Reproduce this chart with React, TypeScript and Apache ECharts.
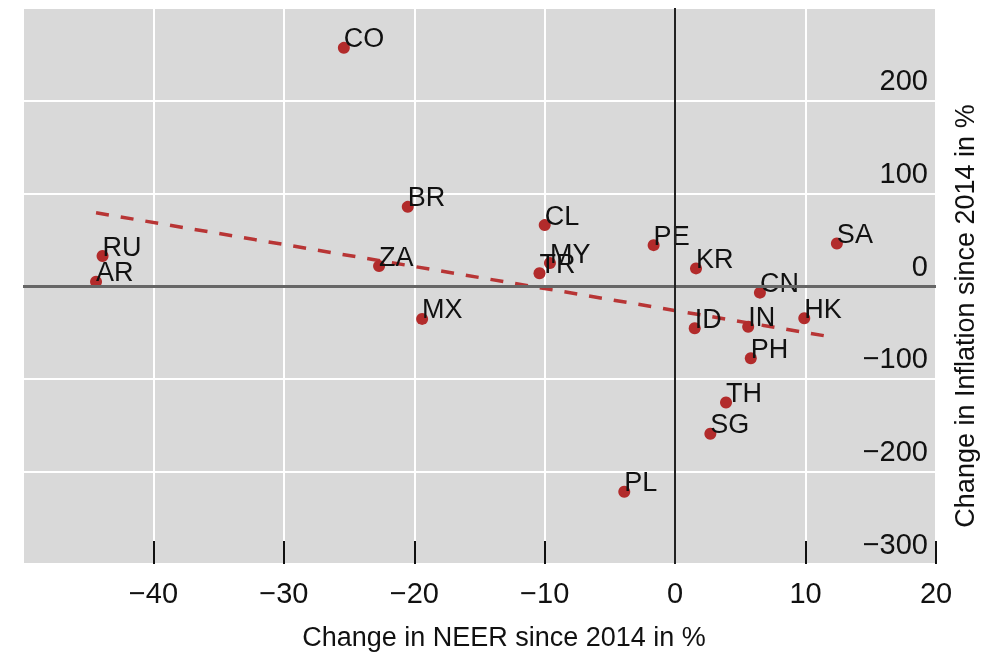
import React, { useEffect, useRef } from "react";
import * as echarts from "echarts";

const countries = ["CO", "BR", "CL", "PE", "KR", "SA", "RU", "AR", "ZA", "TR", "MY", "MX", "CN", "HK", "ID", "IN", "PH", "TH", "SG", "PL"];
const neerChange = [-25.4, -20.5, -10.0, -1.65, 1.6, 12.4, -43.9, -44.4, -22.7, -10.4, -9.6, -19.4, 6.5, 9.9, 1.5, 5.6, 5.8, 3.9, 2.7, -3.9];
const inflationChange = [257, 85.4, 65.7, 44.1, 19.0, 45.8, 32.3, 4.6, 21.5, 13.7, 24.8, -35.5, -7.2, -34.8, -45.6, -43.9, -77.9, -125.7, -159.4, -222.1];
const trendX = [-44.4, 12.3];
const trendY = [79, -55.7];

const xMin = -50, xMax = 20, xStep = 10;
const yMin = -300, yMax = 300, yStep = 100;

const xName = "Change in NEER since 2014 in %";
const yName = "Change in Inflation since 2014 in %";

const FONT = "'Liberation Sans', Arial, Helvetica, sans-serif";
const RED = "#b22b2b";
const fmt = (v: number) => (v < 0 ? "\u2212" + Math.abs(v) : String(v));

export default function App() {
  const ref = useRef<HTMLDivElement>(null);
  useEffect(() => {
    if (!ref.current) return;
    const chart = echarts.init(ref.current, undefined, { renderer: "svg" });
    const points = countries.map((c, i) => ({ name: c, value: [neerChange[i], inflationChange[i]] }));
    chart.setOption({
      animation: false,
      textStyle: { fontFamily: FONT },
      grid: {
        left: 23,
        top: 8,
        width: 913,
        height: 556,
        show: true,
        backgroundColor: "#d9d9d9",
        borderWidth: 0,
      },
      xAxis: {
        type: "value",
        min: xMin,
        max: xMax,
        interval: xStep,
        axisLine: { show: false, onZero: false },
        axisTick: { show: true, inside: true, length: 23, lineStyle: { color: "#111", width: 2 } },
        splitLine: { show: true, lineStyle: { color: "#ffffff", width: 2 } },
        axisLabel: {
          showMinLabel: false,
          fontSize: 29,
          color: "#111",
          margin: 14,
          fontFamily: FONT,
          formatter: fmt,
        },
      },
      yAxis: {
        type: "value",
        position: "right",
        min: yMin,
        max: yMax,
        interval: yStep,
        axisLine: { show: false, onZero: false },
        axisTick: { show: false },
        splitLine: { show: true, lineStyle: { color: "#ffffff", width: 2 } },
        axisLabel: {
          inside: true,
          showMaxLabel: false,
          fontSize: 29,
          lineHeight: 29,
          color: "#111",
          margin: 8,
          fontFamily: FONT,
          verticalAlign: "bottom",
          padding: [0, 0, 6, 0],
          formatter: fmt,
        },
      },
      graphic: [
        {
          type: "text",
          x: 504,
          y: 637,
          style: { text: xName, fontSize: 27, fontFamily: FONT, fill: "#111", align: "center", verticalAlign: "middle" },
        },
        {
          type: "text",
          x: 965,
          y: 316,
          rotation: Math.PI / 2,
          style: { text: yName, fontSize: 27, fontFamily: FONT, fill: "#111", align: "center", verticalAlign: "middle" },
        },
      ],
      series: [
        {
          type: "line",
          data: trendX.map((x, i) => [x, trendY[i]]),
          symbol: "none",
          silent: true,
          z: 2,
          lineStyle: { color: "#b83535", width: 3.5, type: [13, 12] },
          markLine: {
            silent: true,
            symbol: "none",
            label: { show: false },
            data: [
              { yAxis: 0, lineStyle: { color: "#666666", width: 3, type: "solid" } },
              { xAxis: 0, lineStyle: { color: "#222222", width: 2, type: "solid" } },
            ],
          },
        },
        {
          type: "scatter",
          data: points,
          symbolSize: 12,
          z: 3,
          itemStyle: { color: RED, opacity: 1 },
          label: {
            show: true,
            formatter: (p: any) => p.name,
            position: ["50%", "50%"],
            align: "left",
            verticalAlign: "bottom",
            offset: [0, 4],
            fontSize: 27,
            lineHeight: 27,
            color: "#111",
            fontFamily: FONT,
          },
        },
      ],
    });
    return () => chart.dispose();
  }, []);
  return <div ref={ref} style={{ position: "fixed", left: 0, top: 0, width: 986, height: 655 }} />;
}
